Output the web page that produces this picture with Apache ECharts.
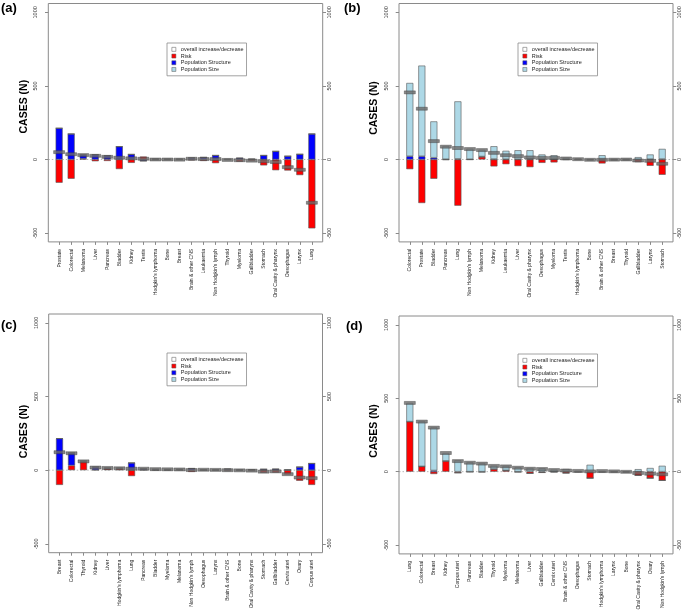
<!DOCTYPE html>
<html><head><meta charset="utf-8">
<script src="https://cdn.jsdelivr.net/npm/echarts@6/dist/echarts.min.js"></script>
<style>html,body{margin:0;padding:0;background:#fff}#c{width:685px;height:616px}</style>
</head><body><div id="c"></div>
<script>
// ---------- data ----------
const yTicks = [-500, 0, 500, 1000];

const catsA = ['Prostate','Colorectal','Melanoma','Liver','Pancreas','Bladder','Kidney','Testis',"Hodgkin's lymphoma",'Bone','Breast','Brain & other CNS','Leukaemia',"Non Hodgkin's lymph",'Thyroid','Myeloma','Gallbladder','Stomach','Oral Cavity & pharynx','Oesophagus','Larynx','Lung'];
const riskA    = [-158,-131,5,-12,-10,-65,-23,20,-3,-2,-3,-6,-10,-25,-4,-15,-10,-40,-73,-75,-106,-468];
const structA  = [213,174,28,33,26,88,35,-10,3,2,2,11,15,28,1,10,3,28,56,23,36,174];
const sizeA    = [0,0,0,0,0,0,0,0,0,0,0,0,0,0,0,0,0,0,0,0,0,0];
const overallA = [50,36,30,25,18,12,8,5,0,0,-1,5,3,3,-3,-5,-8,-12,-17,-52,-70,-294];

const catsB = ['Colorectal','Prostate','Bladder','Pancreas','Lung',"Non Hodgkin's lymph",'Melanoma','Kidney','Leukaemia','Liver','Oral Cavity & pharynx','Oesophagus','Myeloma','Testis',"Hodgkin's lymphoma",'Bone','Brain & other CNS','Breast','Thyroid','Gallbladder','Larynx','Stomach'];
const riskB    = [-66,-296,-131,-3,-314,-2,18,-47,-32,-45,-52,-23,-20,-2,-2,-3,-27,-3,-2,-18,-43,-104];
const structB  = [22,22,12,2,4,2,2,3,2,2,3,1,1,1,1,0,1,0,0,1,2,3];
const sizeB    = [498,616,247,89,391,71,46,87,57,61,60,33,28,10,3,1,28,2,1,15,32,69];
const overallB = [456,345,125,87,78,71,64,45,29,23,14,11,11,7,2,-2,-2,-1,0,-7,-9,-29];

const catsC = ['Breast','Colorectal','Thyroid','Kidney','Liver',"Hodgkin's lymphoma",'Lung','Pancreas','Bladder','Myeloma','Melanoma',"Non Hodgkin's lymph",'Oesophagus','Larynx','Brain & other CNS','Bone','Oral Cavity & pharynx','Stomach','Gallbladder','Cervix uteri','Ovary','Corpus uteri'];
const riskC    = [-100,32,58,2,10,12,-40,3,1,1,3,-12,1,1,-7,-2,-7,-18,-16,-30,-72,-100];
const structC  = [215,86,4,20,6,2,50,8,6,5,3,12,2,1,8,1,3,7,8,3,22,46];
const sizeC    = [0,0,0,0,0,0,0,0,0,0,0,0,0,0,0,0,0,0,0,0,0,0];
const overallC = [122,115,60,18,15,13,10,10,7,6,5,1,3,2,0,-1,-3,-10,-8,-27,-50,-54];

const catsD = ['Lung','Colorectal','Breast','Kidney','Corpus uteri','Pancreas','Bladder','Thyroid','Myeloma','Melanoma','Liver','Gallbladder','Cervix uteri','Brain & other CNS','Oesophagus','Stomach',"Hodgkin's lymphoma",'Larynx','Bone','Oral Cavity & pharynx','Ovary',"Non Hodgkin's lymph"];
const riskD    = [341,36,-16,73,-8,-1,-2,18,9,-2,-12,-6,-2,-10,-1,-45,-1,-1,-3,-26,-45,-60];
const structD  = [0,0,8,0,0,0,0,0,0,0,0,0,0,0,0,0,0,0,0,0,0,0];
const sizeD    = [127,307,294,54,77,64,57,23,30,30,25,23,14,18,5,47,4,2,1,17,25,40];
const overallD = [468,341,300,127,72,61,55,39,36,27,20,18,11,8,5,2,4,2,-1,-9,-14,-18];

const NAMES = ['overall increase/decrease','Risk','Population Structure','Population Size'];

// ---------- layout ----------
const FONT = 'Liberation Sans, Arial, Helvetica, sans-serif';
const COL = {risk:'#FF0000', struct:'#0000FF', size:'#ADD8E6', overall:'#6a6a6a', frame:'#8a8a8a', edge:'#555'};

const panels = [
  {tag:'(a)', cats:catsA, risk:riskA, struct:structA, size:sizeA, overall:overallA,
   box:{x:48.3, y:3.5, w:274.4, h:238.4}, legend:{left:167, top:43}, title:[1,2], ylab:[24,106.7]},
  {tag:'(b)', cats:catsB, risk:riskB, struct:structB, size:sizeB, overall:overallB,
   box:{x:399, y:3.5, w:274, h:238.4}, legend:{left:518, top:43}, title:[344,2], ylab:[374.5,108]},
  {tag:'(c)', cats:catsC, risk:riskC, struct:structC, size:sizeC, overall:overallC,
   box:{x:48.7, y:314, w:273.8, h:238.7}, legend:{left:167, top:353}, title:[1,318.5], ylab:[24.5,431.5]},
  {tag:'(d)', cats:catsD, risk:riskD, struct:structD, size:sizeD, overall:overallD,
   box:{x:399, y:316, w:274, h:237.9}, legend:{left:518, top:354}, title:[346,320], ylab:[374.5,431]}
];
const EDGE = 0.9; // distance (in category spacings) from box edge to first/last category centre

const grids = [], xAxes = [], yAxes = [], series = [], legends = [], graphics = [];

panels.forEach((p, k) => {
  const n = p.cats.length;
  const s = p.box.w / (n - 1 + 2 * EDGE);
  const inset = (EDGE - 0.5) * s;
  grids.push({left:p.box.x + inset, top:p.box.y, width:n * s, height:p.box.h, show:false});
  graphics.push({type:'rect', id:'frame' + k, z:10, silent:true,
    shape:{x:p.box.x, y:p.box.y, width:p.box.w, height:p.box.h},
    style:{fill:null, stroke:COL.frame, lineWidth:1}});
  xAxes.push({
    gridIndex:k, type:'category', data:p.cats, boundaryGap:true,
    axisLine:{show:false, onZero:false}, splitLine:{show:false},
    axisTick:{show:true, alignWithLabel:true, interval:0, length:3, lineStyle:{color:COL.frame, width:1}},
    axisLabel:{show:true, interval:0, rotate:90, margin:7, fontSize:5, fontFamily:FONT, color:'#222'}
  });
  [['left', 9.5], ['right', 3.5]].forEach(([pos, m]) => {
    yAxes.push({
      gridIndex:k, type:'value', position:pos, offset:inset, min:-560, max:1060,
      axisLine:{show:false, onZero:false}, splitLine:{show:false},
      axisTick:{show:true, customValues:yTicks, length:3.3, lineStyle:{color:COL.frame, width:1}},
      axisLabel:{show:true, customValues:yTicks, rotate:90, margin:m, fontSize:5.5, fontFamily:FONT, color:'#333',
        formatter:v => String(v)}
    });
  });
  const yi = k * 2;
  const stack = 'st' + k;
  const barCommon = {type:'bar', xAxisIndex:k, yAxisIndex:yi, stack:stack, barWidth:7, silent:true, animation:false};
  series.push(Object.assign({}, barCommon, {
    name:'Risk', data:p.risk,
    itemStyle:{color:COL.risk, borderColor:COL.edge, borderWidth:0.6}
  }));
  series.push(Object.assign({}, barCommon, {
    name:'Population Structure', data:p.struct,
    itemStyle:{color:COL.struct, borderColor:COL.edge, borderWidth:0.6}
  }));
  series.push(Object.assign({}, barCommon, {
    name:'Population Size', data:p.size,
    itemStyle:{color:COL.size, borderColor:COL.edge, borderWidth:0.6}
  }));
  series.push({
    type:'scatter', name:'overall increase/decrease', xAxisIndex:k, yAxisIndex:yi, z:5,
    symbol:'rect', symbolSize:[11, 3], silent:true, animation:false,
    itemStyle:{color:COL.overall, borderColor:'#333', borderWidth:0.4},
    data:p.overall
  });
  legends.push({
    left:p.legend.left, top:p.legend.top, orient:'vertical', selectedMode:false,
    itemWidth:4, itemHeight:4, itemGap:0, padding:[3, 3, 3, 4.5],
    borderColor:COL.frame, borderWidth:0.8, backgroundColor:'#fff',
    textStyle:{fontSize:5.5, lineHeight:6.7, fontFamily:FONT, color:'#222'},
    data:[
      {name:NAMES[0], icon:'rect', itemStyle:{color:'#fff', borderColor:'#666', borderWidth:0.7}},
      {name:NAMES[1], icon:'rect', itemStyle:{color:COL.risk, borderColor:'#555', borderWidth:0.5}},
      {name:NAMES[2], icon:'rect', itemStyle:{color:COL.struct, borderColor:'#555', borderWidth:0.5}},
      {name:NAMES[3], icon:'rect', itemStyle:{color:COL.size, borderColor:'#555', borderWidth:0.5}}
    ]
  });
  graphics.push({type:'text', id:'tag' + k, x:p.title[0], y:p.title[1],
    style:{text:p.tag, font:'bold 13px ' + FONT, fill:'#000', textAlign:'left', textVerticalAlign:'top'}});
  graphics.push({type:'text', id:'ylab' + k, x:p.ylab[0], y:p.ylab[1], rotation:Math.PI / 2,
    style:{text:'CASES (N)', font:'bold 10.5px ' + FONT, fill:'#000', textAlign:'center', textVerticalAlign:'middle'}});
});

const chart = echarts.init(document.getElementById('c'), null, {renderer:'canvas'});
chart.setOption({
  animation:false, backgroundColor:'#fff',
  grid:grids, xAxis:xAxes, yAxis:yAxes, series:series, legend:legends, graphic:graphics
});

// dotted zero reference line across each frame, positioned through the y scale
const zeroLines = panels.map((p, k) => {
  const y0 = chart.convertToPixel({yAxisIndex:k * 2}, 0);
  return {type:'line', id:'zero' + k, z:1, silent:true,
    shape:{x1:p.box.x, y1:y0, x2:p.box.x + p.box.w, y2:y0},
    style:{stroke:'#b8b8b8', lineWidth:1, lineDash:[1.5, 2]}};
});
chart.setOption({graphic:graphics.concat(zeroLines)});
</script></body></html>
